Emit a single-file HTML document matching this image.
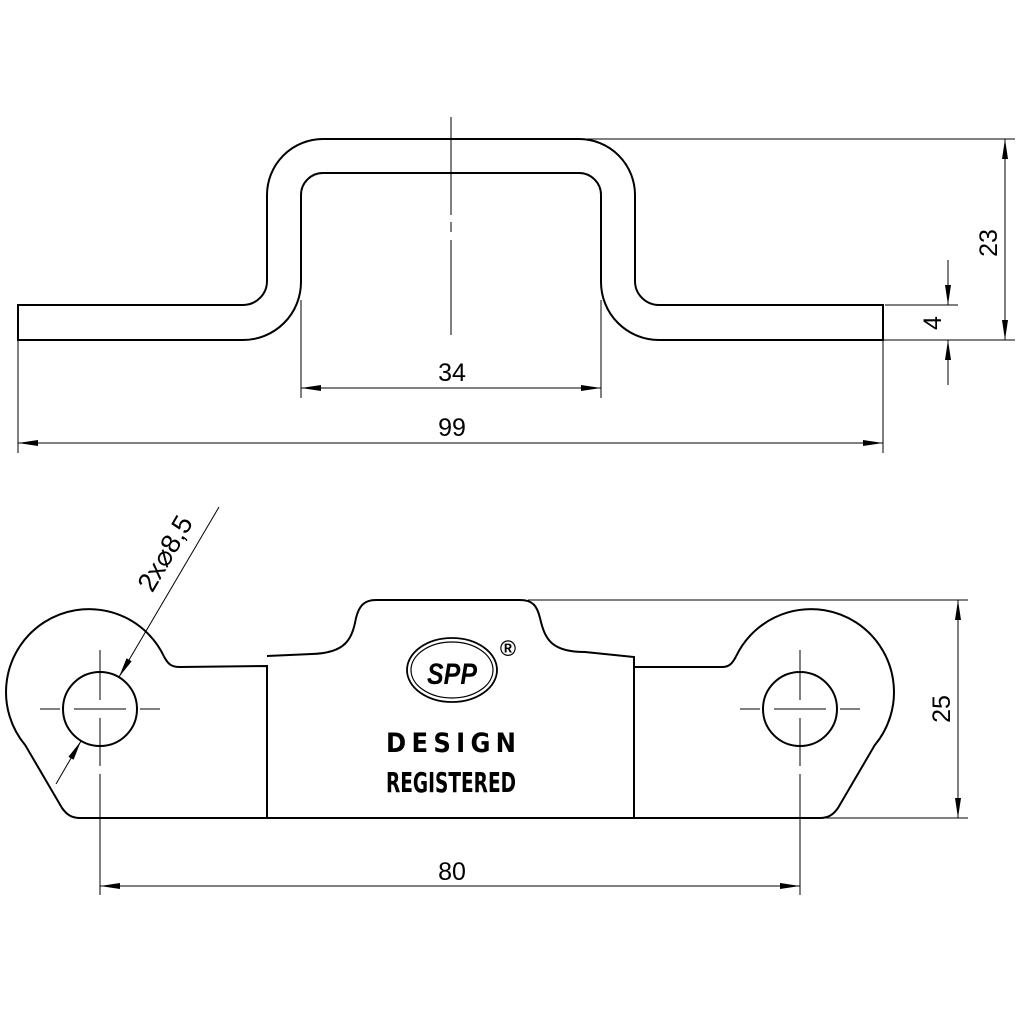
<!DOCTYPE html>
<html><head><style>
html,body{margin:0;padding:0;background:#fff;}
svg{display:block;}
text{font-family:"Liberation Sans",sans-serif;fill:#000;}
</style></head><body>
<svg width="1024" height="1024" viewBox="0 0 1024 1024" xmlns="http://www.w3.org/2000/svg">
<defs>
<marker id="a" viewBox="0 0 20 6" refX="20" refY="3" markerWidth="20" markerHeight="6" markerUnits="userSpaceOnUse" orient="auto-start-reverse">
<path d="M0,0 L20,3 L0,6 z" fill="#000"/></marker>
</defs>
<g fill="none" stroke="#000" stroke-width="2">
<path d="M18,305 H243 A24,24 0 0 0 267,281 V195 A56,56 0 0 1 323,139 H579 A56,56 0 0 1 635,195 V281 A24,24 0 0 0 659,305 H883 V340 H659 A58,58 0 0 1 601,282 V195 A22,22 0 0 0 579,173 H323 A22,22 0 0 0 301,195 V282 A58,58 0 0 1 243,340 H18 Z"/>
<path d="M164,656.5 C168,664 171,667 180,667 L267,666 L267,818 M267,656 L312,654 C345,653 352,640 356,618 C359,606 364,600 376,600 L520,600 C533,600 537,606 540,618 C545,640 552,652 585,652 L634,657 L634,818 M634,667 L722,667 C729,667 732,664 736,656.5"/>
<path d="M164,656.5 A83,83 0 1 0 25.4,745.4 L62,808 C67,815 72,818 80,818 L820,818 C828,818 833,815 838,808 L874.6,745.4 A83,83 0 1 0 736,656.5"/>
<circle cx="100" cy="709" r="37"/>
<circle cx="800" cy="709" r="37"/>
<ellipse cx="452" cy="670" rx="45" ry="32" stroke-width="1.8"/>
<ellipse cx="452" cy="670" rx="41" ry="28" stroke-width="1.2"/>
</g>
<g stroke="#000" stroke-width="1" fill="none">
<path d="M451,117 V215 M451,222 V232 M451,240 V335"/>
<path d="M583,139 H1015 M883,340 H1015 M885,305 H958 M18,340 V453 M883,340 V453 M301,300 V398 M601,300 V398"/>
<path d="M528,600 H968 M825,818 H968"/>
<path d="M40,709 H60 M74,709 H126 M140,709 H160 M100,650 V700 M100,718 V766 M100,774 V895"/>
<path d="M740,709 H760 M774,709 H826 M840,709 H860 M800,650 V700 M800,718 V766 M800,774 V895"/>
<line x1="1005" y1="139" x2="1005" y2="340" marker-start="url(#a)" marker-end="url(#a)"/>
<line x1="948" y1="260" x2="948" y2="305" marker-end="url(#a)"/>
<line x1="948" y1="385" x2="948" y2="340" marker-end="url(#a)"/>
<line x1="301" y1="388" x2="601" y2="388" marker-start="url(#a)" marker-end="url(#a)"/>
<line x1="18" y1="443" x2="883" y2="443" marker-start="url(#a)" marker-end="url(#a)"/>
<line x1="100" y1="886" x2="800" y2="886" marker-start="url(#a)" marker-end="url(#a)"/>
<line x1="958" y1="600" x2="958" y2="818" marker-start="url(#a)" marker-end="url(#a)"/>
<line x1="219" y1="507" x2="119" y2="677" marker-end="url(#a)"/>
<line x1="56" y1="784" x2="81" y2="741" marker-end="url(#a)"/>
</g>
<g font-size="25">
<text x="452" y="381" text-anchor="middle">34</text>
<text x="452" y="436" text-anchor="middle">99</text>
<text x="452" y="880" text-anchor="middle">80</text>
<text transform="translate(997,243) rotate(-90)" text-anchor="middle">23</text>
<text transform="translate(941,323) rotate(-90)" text-anchor="middle">4</text>
<text transform="translate(950,709) rotate(-90)" text-anchor="middle">25</text>
<text transform="translate(173,558) rotate(-59.7)" text-anchor="middle" font-size="27">2x⌀8,5</text>
</g>
<text x="452" y="684" font-size="30" font-style="italic" font-weight="bold" text-anchor="middle" textLength="50" lengthAdjust="spacingAndGlyphs" style="font-family:'Liberation Sans Narrow','Liberation Sans',sans-serif">SPP</text>
<text x="508" y="656" font-size="22" font-weight="bold" text-anchor="middle">®</text>
<text x="386" y="752" font-size="27" font-weight="bold" textLength="130" lengthAdjust="spacing" style="font-family:'Liberation Sans Narrow','DejaVu Sans Condensed',sans-serif">DESIGN</text>
<text x="386" y="792" font-size="28" font-weight="bold" textLength="130" lengthAdjust="spacingAndGlyphs" style="font-family:'Liberation Sans Narrow','DejaVu Sans Condensed',sans-serif">REGISTERED</text>
</svg>
</body></html>
